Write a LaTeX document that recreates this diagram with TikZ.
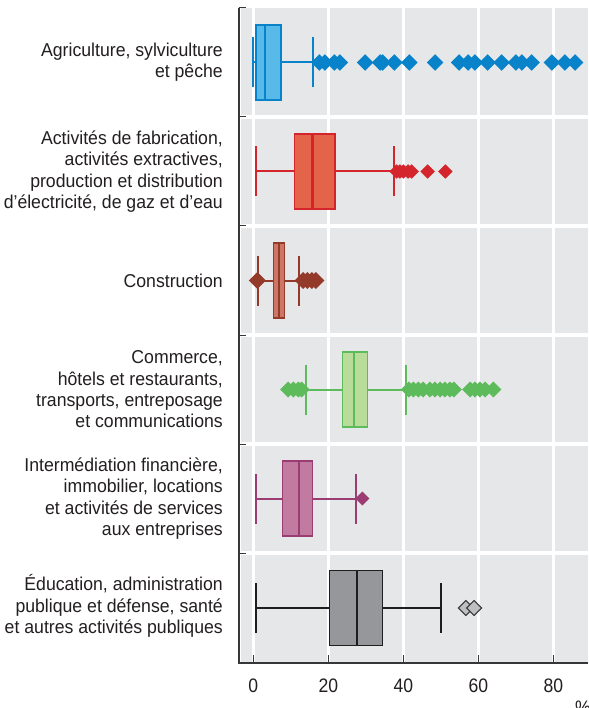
\documentclass[tikz,border=0pt]{standalone}
\usepackage{fontspec}
\setmainfont{Liberation Sans}[FakeStretch=0.9]
\newfontfamily\labfont{Liberation Sans}[FakeStretch=0.95]
\usepackage{tikz}
\usetikzlibrary{calc,positioning}

\definecolor{plotbg}{RGB}{230,231,233}
\definecolor{axisgrey}{RGB}{55,55,55}
\definecolor{txt}{RGB}{35,31,32}
\definecolor{agrfill}{RGB}{88,186,232}
\definecolor{agrline}{RGB}{8,130,200}
\definecolor{manfill}{RGB}{228,100,74}
\definecolor{manline}{RGB}{213,37,44}
\definecolor{confill}{RGB}{205,118,102}
\definecolor{conline}{RGB}{148,58,42}
\definecolor{comfill}{RGB}{186,220,155}
\definecolor{comline}{RGB}{94,187,91}
\definecolor{finfill}{RGB}{193,122,160}
\definecolor{finline}{RGB}{155,61,114}
\definecolor{pubfill}{RGB}{150,151,155}
\definecolor{publine}{RGB}{30,30,30}
\definecolor{pubout}{RGB}{190,191,193}

% one box: y, low, q1, median, q3, high, colour prefix
\newcommand{\bxplot}[7]{%
  \draw[#7line, line width=2pt] (#2,#1) -- (#3,#1) (#5,#1) -- (#6,#1);
  \draw[#7line, line width=2pt] (#2,#1-25) -- (#2,#1+25) (#6,#1-25) -- (#6,#1+25);
  \filldraw[fill=#7fill, draw=#7line, line width=1.2pt] (#3,#1-37.5) rectangle (#5,#1+37.5);
  \draw[#7line, line width=2.2pt] (#4,#1-37.5) -- (#4,#1+37.5);
}
% outliers: y, colour, values, half size
\newcommand{\outl}[4]{%
  \foreach \v in {#3}
    \fill[#2] (\v,#1) +(-#4,0) -- +(0,#4) -- +(#4,0) -- +(0,-#4) -- cycle;
}

\begin{document}
\begin{tikzpicture}[x=1pt, y=-1pt]
    \tikzstyle{lab} = [anchor=east, align=right, inner sep=0pt, text=txt,
                       font=\labfont\fontsize{18.6}{21.3}\selectfont]
    \tikzstyle{tlab} = [inner sep=0pt, text=txt, font=\fontsize{19.5}{22}\selectfont]

    \useasboundingbox (0,0) rectangle (588,708);
    \fill[white] (0,0) rectangle (588,708);

    % panel background and grid
    \fill[plotbg] (241,8) rectangle (588,663);
    \foreach \yy in {117,226,335,444,553}
      \draw[white, line width=3.5pt] (241,\yy) -- (588,\yy);

    \begin{scope}[shift={(253.3,0)}, x=3.75pt]
      \foreach \t in {0,20,...,80} {
        \draw[white, line width=3.5pt] (\t,8) -- (\t,663);
        \draw[axisgrey, line width=1pt] (\t,655) -- (\t,663);
        \node[tlab] (t\t) at (\t,686) {\t};
      }

      % Agriculture
      \bxplot{62.5}{-0.2}{0.7}{3.1}{7.4}{15.8}{agr}
      \outl{62.5}{agrline}{17.6,19.1,21.6,23.1,29.8,33.8,34.5,37.6,41.6,48.5,54.9,57.3,59.1,62.5,66.2,70.0,71.6,74.2,79.6,83.1,85.8}{8.3pt}

      % Fabrication
      \bxplot{171.5}{0.6}{10.9}{15.8}{21.8}{37.4}{man}
      \outl{171.5}{manline}{38.2,39.1,40.0,41.3,42.2,46.5,51.2}{7.2pt}

      % Construction
      \bxplot{280.5}{1.2}{5.3}{6.9}{8.3}{12.2}{con}
      \outl{280.5}{conline}{1.1,13.3,14.4,15.6,16.7}{8.5pt}

      % Commerce
      \bxplot{389.5}{14.0}{23.7}{26.8}{30.5}{40.6}{com}
      \outl{389.5}{comline}{9.3,10.7,12.0,12.9,41.5,42.7,44.0,45.3,47.1,48.4,49.8,51.1,52.4,53.5,57.8,59.1,60.4,61.8,64.0}{8pt}

      % Intermediation
      \bxplot{498.5}{0.6}{7.8}{12.2}{15.8}{27.4}{fin}
      \outl{498.5}{finline}{29.1}{7pt}

      % Education
      \bxplot{608}{0.7}{20.3}{27.7}{34.4}{50.0}{pub}
      \foreach \v in {56.7,58.9}
        \filldraw[fill=pubout, draw=axisgrey, line width=1pt]
          (\v,608) +(-7.5pt,0) -- +(0,7.5pt) -- +(7.5pt,0) -- +(0,-7.5pt) -- cycle;
    \end{scope}

    % axes
    \draw[axisgrey, line width=2pt] (238.5,8) -- (238.5,663) -- (588,663);
    \foreach \yy in {8,117,226,335,444,553}
      \draw[axisgrey, line width=1pt] (238.5,\yy) -- (246,\yy);

    % sector labels
    \node[lab] (agri) at (223,62.5) {Agriculture, sylviculture\\et pêche};
    \node[lab] (fabr) at (223,171.5) {Activités de fabrication,\\activités extractives,\\production et distribution\\d’électricité, de gaz et d’eau};
    \node[lab] (cons) at (223,280.5) {Construction};
    \node[lab] (comm) at (223,389.5) {Commerce,\\hôtels et restaurants,\\transports, entreposage\\et communications};
    \node[lab] (inte) at (223,498.5) {Intermédiation financière,\\immobilier, locations\\et activités de services\\aux entreprises};
    \node[lab] (educ) at (223,606) {Éducation, administration\\publique et défense, santé\\et autres activités publiques};

    \node[tlab, anchor=north west] (pct) at (575,701) {\%};
\end{tikzpicture}
\end{document}
